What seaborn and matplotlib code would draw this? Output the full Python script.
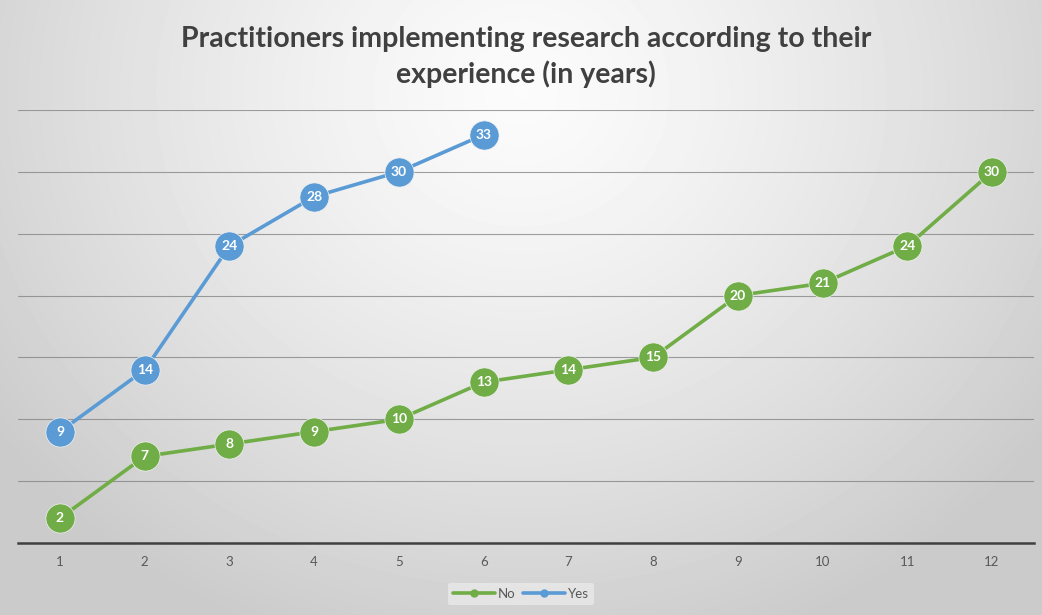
import numpy as np
import pandas as pd
import matplotlib
matplotlib.use("Agg")
import matplotlib.pyplot as plt
from matplotlib.lines import Line2D
import seaborn as sns

# Chart data
experience = list(range(1, 13))
no_values = [2, 7, 8, 9, 10, 13, 14, 15, 20, 21, 24, 30]
yes_years = [1, 2, 3, 4, 5, 6]
yes_values = [9, 14, 24, 28, 30, 33]
series_names = ["No", "Yes"]
title = "Practitioners implementing research according to their\nexperience (in years)"

GREEN = "#70ad47"
BLUE = "#5b9bd5"

sns.set_theme(style="white")
plt.rcParams["font.family"] = ["Lato", "DejaVu Sans"]

W, H, DPI = 1042, 615, 100
fig = plt.figure(figsize=(W / DPI, H / DPI), dpi=DPI)

# Radial gray gradient background, brightest near the top centre
bg = fig.add_axes([0, 0, 1, 1], zorder=-10)
yy, xx = np.mgrid[0:H, 0:W]
cx, cy = W * 0.5, H * 0.15
r = np.sqrt(((xx - cx) / (W * 0.62)) ** 2 + ((yy - cy) / (H * 0.95)) ** 2)
r = np.clip(r, 0, 1)
shade = 0.985 - 0.19 * r ** 1.3
bg.imshow(shade, cmap="gray", vmin=0, vmax=1, aspect="auto",
          extent=[0, W, H, 0], interpolation="bilinear")
bg.axis("off")

ax = fig.add_axes([17.6 / W, (H - 543) / H, (1034.4 - 17.6) / W, (543 - 110) / H])
ax.set_facecolor("none")

df = pd.concat([
    pd.DataFrame({"year": experience, "count": no_values, "series": series_names[0]}),
    pd.DataFrame({"year": yes_years, "count": yes_values, "series": series_names[1]}),
])

sns.lineplot(data=df, x="year", y="count", hue="series",
             palette={"No": GREEN, "Yes": BLUE}, marker="o",
             markersize=21, linewidth=2.6, markeredgecolor="#f2f2f2",
             markeredgewidth=0.5, ax=ax, legend=False, zorder=3)

for xs, ys in ((experience, no_values), (yes_years, yes_values)):
    for x, y in zip(xs, ys):
        ax.text(x, y, str(y), ha="center", va="center", color="white",
                fontsize=10, fontweight="bold", zorder=5)

ax.set_xlim(0.5, 12.5)
ax.set_ylim(0, 35)
ax.set_yticks(np.arange(0, 36, 5))
ax.set_yticklabels([])
ax.set_xticks(experience)
ax.set_xticklabels([str(v) for v in experience], color="#595959", fontsize=9.5)
ax.tick_params(axis="x", length=0, pad=9)
ax.tick_params(axis="y", length=0)
ax.grid(axis="y", color="#808080", linewidth=0.8, alpha=0.75)
ax.grid(axis="x", visible=False)
ax.set_xlabel("")
ax.set_ylabel("")
for side in ("top", "right", "left"):
    ax.spines[side].set_visible(False)
ax.spines["bottom"].set_color("#404040")
ax.spines["bottom"].set_linewidth(1.8)

fig.text(0.505, 1 - 57 / H, title, ha="center", va="center",
         fontsize=20.5, fontweight="bold", color="#404040", linespacing=1.4)

# Legend at bottom centre
handles = [Line2D([0], [0], color=GREEN, lw=2.6, marker="o", markersize=5),
           Line2D([0], [0], color=BLUE, lw=2.6, marker="o", markersize=5)]
leg = fig.legend(handles, series_names, loc="center", bbox_to_anchor=(0.5, 1 - 594 / H),
                 ncol=2, frameon=True, fontsize=9.5, handlelength=3.2,
                 handletextpad=0.2, columnspacing=0.6, borderpad=0.4)
leg.get_frame().set_facecolor("#ececec")
leg.get_frame().set_edgecolor("none")
leg.get_frame().set_alpha(0.7)
for t in leg.get_texts():
    t.set_color("#595959")

fig.savefig("out.png", dpi=DPI)
